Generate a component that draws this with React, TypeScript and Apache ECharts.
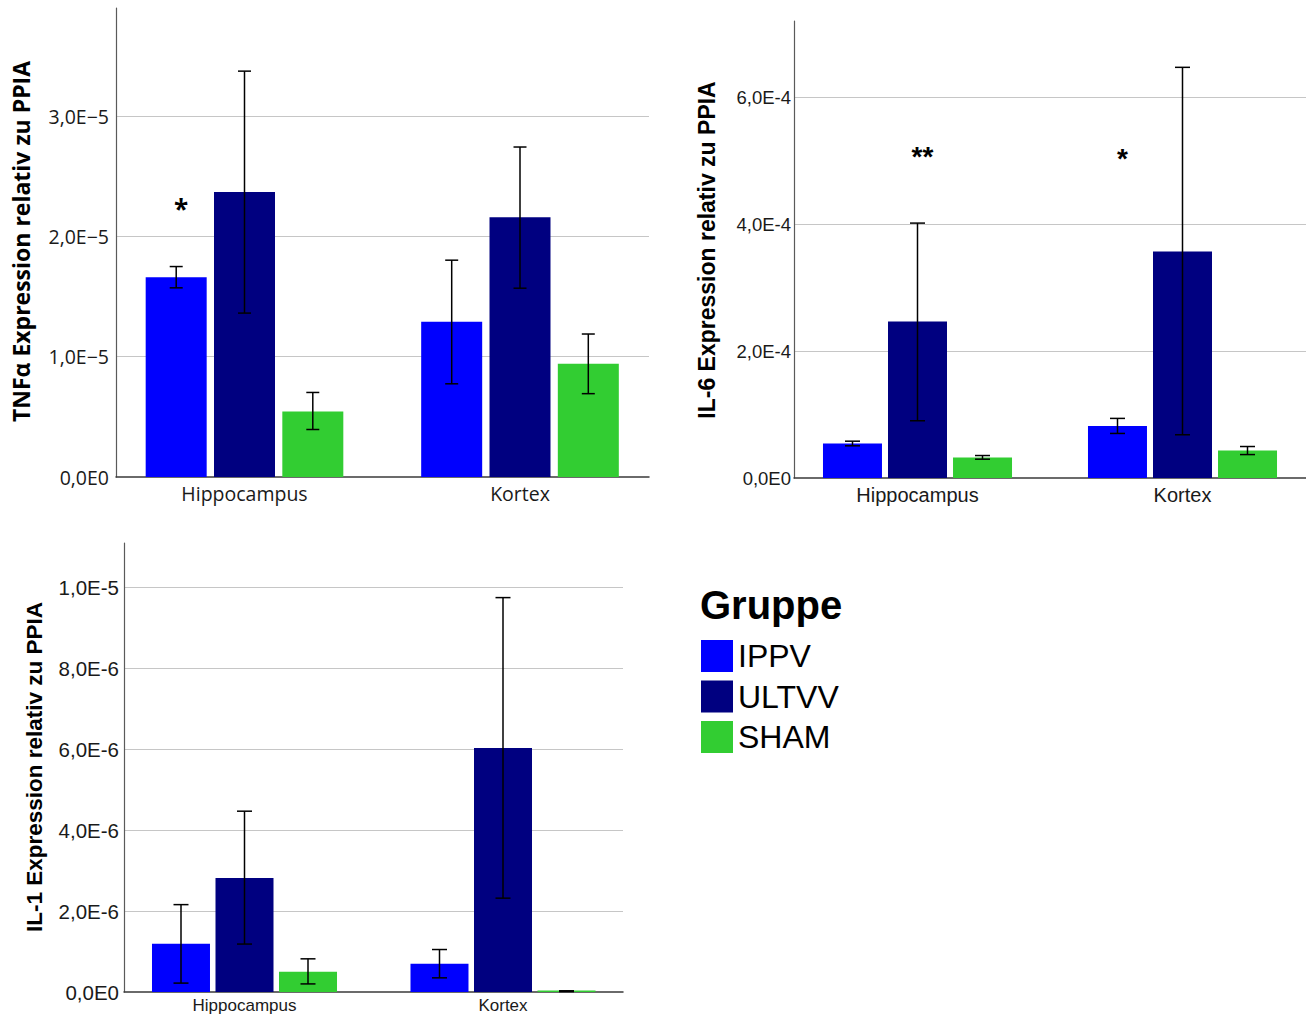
import React, { useEffect, useRef } from 'react';
import * as echarts from 'echarts';

const categories = ['Hippocampus', 'Kortex'];
const groups = ['IPPV', 'ULTVV', 'SHAM'];
const groupColors = ['#0000fe', '#000080', '#32cd32'];

// per group: [Hippocampus, Kortex]
const tnfMean = [[1.66e-5, 1.29e-5], [2.37e-5, 2.16e-5], [0.545e-5, 0.942e-5]];
const tnfLow = [[1.573e-5, 0.775e-5], [1.363e-5, 1.57e-5], [0.395e-5, 0.693e-5]];
const tnfHigh = [[1.75e-5, 1.803e-5], [3.375e-5, 2.744e-5], [0.703e-5, 1.189e-5]];
const tnfTickLabels = ['0,0E0', '1,0E−5', '2,0E−5', '3,0E−5'];
const tnfStars = [[0, 0, 2.23e-5]];
const tnfStarTexts = ['*'];

const il6Mean = [[0.544e-4, 0.818e-4], [2.464e-4, 3.567e-4], [0.322e-4, 0.433e-4]];
const il6Low = [[0.507e-4, 0.702e-4], [0.902e-4, 0.681e-4], [0.296e-4, 0.369e-4]];
const il6High = [[0.58e-4, 0.939e-4], [4.016e-4, 6.47e-4], [0.354e-4, 0.496e-4]];
const il6TickLabels = ['0,0E0', '2,0E-4', '4,0E-4', '6,0E-4'];
const il6Stars = [[0, 1, 5.06e-4], [1, 0, 5.03e-4]];
const il6StarTexts = ['**', '*'];

const il1Mean = [[1.19e-6, 0.70e-6], [2.82e-6, 6.03e-6], [0.50e-6, 0.02e-6]];
const il1Low = [[0.22e-6, 0.35e-6], [1.185e-6, 2.32e-6], [0.20e-6, 0.01e-6]];
const il1High = [[2.16e-6, 1.05e-6], [4.47e-6, 9.75e-6], [0.82e-6, 0.03e-6]];
const il1TickLabels = ['0,0E0', '2,0E-6', '4,0E-6', '6,0E-6', '8,0E-6', '1,0E-5'];
const il1Stars: number[][] = [];
const il1StarTexts: string[] = [];

const legendTitle = 'Gruppe';

const panels = [
  {
    name: 'TNFα Expression relativ zu PPIA',
    mean: tnfMean, low: tnfLow, high: tnfHigh, ticks: tnfTickLabels, stars: tnfStars, starTexts: tnfStarTexts,
    max: 3.9e-5, interval: 1e-5,
    axis: { left: 116, top: 8, width: 533, height: 469 },
    bars: { left: 106.75, width: 551 },
    barWidth: 61, slot: 68.3, capW: 13,
    font: 'Open Sans', tickSize: 19.5, catSize: 19.5, nameSize: 23, nameX: 21, nameY: 241.5,
    labelMargin: 7, catMargin: 6, starSize: 26, starFont: 'Open Sans',
  },
  {
    name: 'IL-6 Expression relativ zu PPIA',
    mean: il6Mean, low: il6Low, high: il6High, ticks: il6TickLabels, stars: il6Stars, starTexts: il6StarTexts,
    max: 7.2e-4, interval: 2e-4,
    axis: { left: 794, top: 21, width: 512, height: 457 },
    bars: { left: 785, width: 530 },
    barWidth: 59, slot: 65, capW: 15,
    font: 'Liberation Sans', tickSize: 18.5, catSize: 20, nameSize: 23, nameX: 707, nameY: 250,
    labelMargin: 3, catMargin: 7, starSize: 28, starFont: 'Liberation Sans',
  },
  {
    name: 'IL-1 Expression relativ zu PPIA',
    mean: il1Mean, low: il1Low, high: il1High, ticks: il1TickLabels, stars: il1Stars, starTexts: il1StarTexts,
    max: 1.11e-5, interval: 2e-6,
    axis: { left: 124, top: 543, width: 499, height: 449 },
    bars: { left: 115.25, width: 517 },
    barWidth: 58, slot: 63.5, capW: 15,
    font: 'Liberation Sans', tickSize: 20.5, catSize: 17, nameSize: 22.5, nameX: 34, nameY: 767,
    labelMargin: 5, catMargin: 5, starSize: 28, starFont: 'Liberation Sans',
  },
];

function buildOption() {
  const grid: any[] = [];
  const xAxis: any[] = [];
  const yAxis: any[] = [];
  const series: any[] = [];
  const graphic: any[] = [];

  panels.forEach((p, i) => {
    const ai = i * 2;
    const bi = i * 2 + 1;
    grid.push({ left: p.axis.left, top: p.axis.top, width: p.axis.width, height: p.axis.height, containLabel: false, outerBoundsMode: 'none' });
    grid.push({ left: p.bars.left, top: p.axis.top, width: p.bars.width, height: p.axis.height, containLabel: false, outerBoundsMode: 'none' });

    xAxis.push({
      type: 'category', gridIndex: ai, data: categories,
      axisLabel: { show: false }, axisTick: { show: false },
      axisLine: { show: true, lineStyle: { color: '#3a3a3a', width: 1.5 } },
      splitLine: { show: false },
    });
    xAxis.push({
      type: 'category', gridIndex: bi, data: categories,
      axisLine: { show: false }, axisTick: { show: false },
      axisLabel: { show: true, fontFamily: p.font, fontSize: p.catSize, color: '#1a1a1a', margin: p.catMargin },
      splitLine: { show: false },
    });
    yAxis.push({
      type: 'value', gridIndex: ai, min: 0, max: p.max, interval: p.interval,
      axisLine: { show: true, lineStyle: { color: '#5a5a5a', width: 1.2 } },
      axisTick: { show: false },
      axisLabel: {
        fontFamily: p.font, fontSize: p.tickSize, color: '#1a1a1a', margin: p.labelMargin,
        showMaxLabel: false,
        formatter: (v: number) => {
          const k = Math.round(v / p.interval);
          if (Math.abs(v - k * p.interval) > p.interval * 1e-3) return '';
          return p.ticks[k] ?? '';
        },
      },
      splitLine: { show: true, showMaxLine: false, showMinLine: false, lineStyle: { color: '#c6c6c6', width: 1.2 } },
    });
    yAxis.push({ type: 'value', gridIndex: bi, min: 0, max: p.max, show: false });

    groups.forEach((g, gi) => {
      series.push({
        type: 'bar', name: g, xAxisIndex: bi, yAxisIndex: bi,
        data: p.mean[gi], barWidth: p.barWidth, barMinHeight: 1.5,
        barGap: ((p.slot - p.barWidth) / p.barWidth * 100).toFixed(1) + '%',
        itemStyle: { color: groupColors[gi] },
        z: 2,
      });
    });

    const errData: number[][] = [];
    groups.forEach((g, gi) => {
      categories.forEach((c, ci) => {
        errData.push([ci, gi, p.low[gi][ci], p.high[gi][ci]]);
      });
    });
    series.push({
      type: 'custom', name: 'err' + i, xAxisIndex: bi, yAxisIndex: bi,
      data: errData, encode: { x: 0, y: [2, 3] }, z: 4, silent: true,
      renderItem: (params: any, api: any) => {
        const ci = api.value(0);
        const gi = api.value(1);
        const lo = api.coord([ci, api.value(2)]);
        const hi = api.coord([ci, api.value(3)]);
        const x = lo[0] + (gi - 1) * p.slot;
        const h = p.capW / 2;
        const st = { stroke: '#000', lineWidth: 1.5 };
        return {
          type: 'group',
          children: [
            { type: 'line', shape: { x1: x, y1: lo[1], x2: x, y2: hi[1] }, style: st },
            { type: 'line', shape: { x1: x - h, y1: lo[1], x2: x + h, y2: lo[1] }, style: st },
            { type: 'line', shape: { x1: x - h, y1: hi[1], x2: x + h, y2: hi[1] }, style: st },
          ],
        };
      },
    });

    if (p.stars.length) {
      series.push({
        type: 'custom', name: 'stars' + i, xAxisIndex: bi, yAxisIndex: bi,
        data: p.stars, encode: { x: 0, y: 2 }, z: 5, silent: true,
        renderItem: (params: any, api: any) => {
          const ci = api.value(0);
          const gi = api.value(1);
          const pt = api.coord([ci, api.value(2)]);
          return {
            type: 'text',
            x: pt[0] + (gi - 1) * p.slot + 5,
            y: pt[1],
            style: {
              text: p.starTexts[params.dataIndex],
              fontFamily: p.starFont, fontSize: p.starSize, fontWeight: 'bold', fill: '#000',
              align: 'center', verticalAlign: 'middle',
            },
          };
        },
      });
    }

    graphic.push({
      type: 'text', x: p.nameX, y: p.nameY, rotation: Math.PI / 2,
      style: {
        text: p.name, fontFamily: p.font, fontSize: p.nameSize, fontWeight: 'bold', fill: '#000',
        align: 'center', verticalAlign: 'middle',
      },
    });
  });

  graphic.push({
    type: 'text', x: 700, y: 605,
    style: {
      text: legendTitle, fontFamily: 'Liberation Sans', fontSize: 40, fontWeight: 'bold', fill: '#000',
      align: 'left', verticalAlign: 'middle',
    },
  });

  return {
    animation: false,
    backgroundColor: '#ffffff',
    grid, xAxis, yAxis, series, graphic,
    legend: {
      data: groups, orient: 'vertical', left: 701, top: 640, padding: 0,
      itemWidth: 32, itemHeight: 32, itemGap: 8.5, icon: 'rect', selectedMode: false,
      textStyle: { fontFamily: 'Liberation Sans', fontSize: 32, color: '#000', lineHeight: 32 },
    },
  };
}

export default function App() {
  const ref = useRef<HTMLDivElement>(null);
  useEffect(() => {
    document.body.style.margin = '0';
    if (!ref.current) return;
    const chart = echarts.init(ref.current, null, { renderer: 'svg' });
    chart.setOption(buildOption() as any);
    return () => chart.dispose();
  }, []);
  return <div ref={ref} style={{ width: 1306, height: 1016 }} />;
}
